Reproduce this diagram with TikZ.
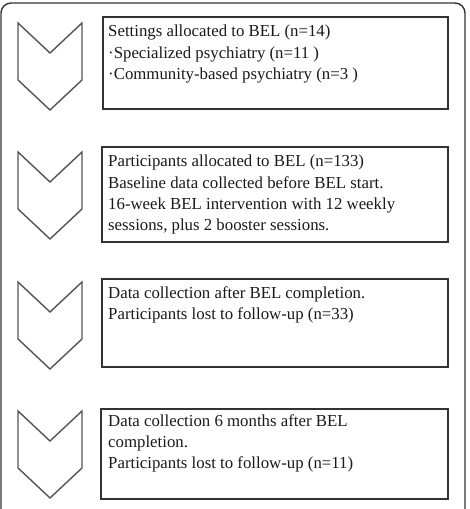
\documentclass[tikz,border=0pt]{standalone}
\usepackage{fontspec}
\setmainfont{Liberation Serif}
\begin{document}
\begin{tikzpicture}[x=1pt,y=-1pt]
\definecolor{boxcol}{HTML}{333333}
\definecolor{chevcol}{HTML}{555555}
\definecolor{txtcol}{HTML}{1A1A1A}
\tikzset{
  stepbox/.style={draw=boxcol, line width=1.6pt, rectangle, inner sep=0pt, anchor=north west},
  chev/.style={draw=chevcol, line width=1.4pt, line join=miter},
  txt/.style={anchor=north west, inner sep=0pt, align=left, text=txtcol,
    font=\fontsize{16.8}{21.2}\selectfont},
  frame/.style={draw=boxcol, line width=1.4pt, rounded corners=10pt}
}
\useasboundingbox (0,0) rectangle (469,509);
\fill[white] (0,0) rectangle (469,509);
% outer frame
\draw[frame] (1,540) -- (1,3) -- (465,3) -- (465,540);
% boxes
\node[stepbox, minimum width=345pt, minimum height=92pt] (b1) at (102,16) {};
\node[stepbox, minimum width=346pt, minimum height=95pt] (b2) at (101,146) {};
\node[stepbox, minimum width=346pt, minimum height=88pt] (b3) at (101,278) {};
\node[stepbox, minimum width=347pt, minimum height=90pt] (b4) at (100,408) {};
% texts
\node[txt] (t1) at (108,25) {Settings allocated to BEL (n=14)\\
  ·Specialized psychiatry (n=11 )\\
  ·Community-based psychiatry (n=3 )};
\node[txt] (t2) at (108,155) {Participants allocated to BEL (n=133)\\
  Baseline data collected before BEL start.\\
  16-week BEL intervention with 12 weekly\\
  sessions, plus 2 booster sessions.};
\node[txt] (t3) at (108,286) {Data collection after BEL completion.\\
  Participants lost to follow-up (n=33)};
\node[txt] (t4) at (108,414) {Data collection 6 months after BEL\\
  completion.\\
  Participants lost to follow-up (n=11)};
% chevrons
\foreach \t in {23,152,282,411}{
  \draw[chev] (18,\t) -- (50,\t+30) -- (82,\t) -- (82,\t+57) -- (50,\t+87) -- (18,\t+57) -- cycle;
}
\end{tikzpicture}
\end{document}
